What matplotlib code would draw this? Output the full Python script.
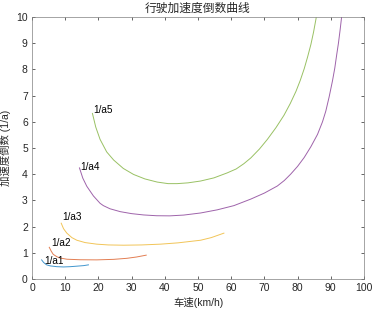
import matplotlib
matplotlib.use("Agg")
import matplotlib.pyplot as plt

v1 = [2.9, 3.5, 4.4, 5.5, 7.5, 9.5, 11.5, 13.5, 15.5, 17.0]
a1 = [0.73, 0.63, 0.54, 0.50, 0.47, 0.46, 0.47, 0.49, 0.51, 0.54]

v2 = [5.2, 5.8, 6.4, 7.5, 8.5, 10.5, 14.5, 19.5, 24.6, 28.6, 31.5, 34.4]
a2 = [1.21, 1.06, 0.94, 0.85, 0.80, 0.755, 0.735, 0.73, 0.75, 0.79, 0.84, 0.91]

v3 = [8.8, 9.5, 10.5, 12.0, 13.5, 16.0, 19.5, 23.0, 27.6, 33.0, 38.7, 44.0, 50.8, 54.0, 57.8]
a3 = [2.13, 1.92, 1.75, 1.58, 1.48, 1.39, 1.33, 1.30, 1.29, 1.30, 1.33, 1.38, 1.48, 1.58, 1.75]

v4 = [14.3, 15.3, 16.5, 18.5, 20.5, 21.5, 23.5, 26.6, 30.0, 33.6, 37.5, 41.5, 45.7, 50.8,
      55.8, 60.8, 65.9, 70.0, 73.9, 76.0, 77.9, 80.0, 82.0, 84.0, 86.0, 87.5, 88.5, 89.5,
      90.5, 91.2, 91.8, 92.3, 92.8, 93.3]
a4 = [4.24, 3.85, 3.54, 3.17, 2.89, 2.80, 2.68, 2.57, 2.495, 2.445, 2.415, 2.41, 2.44, 2.52,
      2.64, 2.80, 3.05, 3.28, 3.55, 3.76, 4.00, 4.30, 4.64, 5.05, 5.52, 6.00, 6.41, 6.95,
      7.56, 8.05, 8.58, 9.00, 9.50, 10.05]

v5 = [18.2, 19.2, 20.5, 22.5, 24.6, 27.5, 30.6, 34.0, 37.7, 41.0, 43.7, 47.0, 50.8, 54.8,
      58.8, 61.5, 63.8, 65.9, 68.5, 70.9, 73.5, 75.9, 77.8, 79.5, 80.8, 82.0, 83.0, 84.0,
      84.8, 85.6]
a5 = [6.32, 5.80, 5.33, 4.85, 4.54, 4.22, 3.99, 3.82, 3.70, 3.64, 3.64, 3.67, 3.74, 3.86,
      4.05, 4.20, 4.40, 4.62, 4.96, 5.33, 5.78, 6.25, 6.70, 7.16, 7.58, 8.03, 8.47, 8.95,
      9.42, 9.97]

labels = ["1/a1", "1/a2", "1/a3", "1/a4", "1/a5"]
label_pos = [(3.6, 0.67), (5.9, 1.38), (9.0, 2.38), (14.5, 4.29), (18.5, 6.44)]
colors = ["#0072BD", "#D95319", "#EDB120", "#7E2F8E", "#77AC30"]

series = [(v1, a1), (v2, a2), (v3, a3), (v4, a4), (v5, a5)]

latin = ["Liberation Sans", "Noto Sans CJK SC", "DejaVu Sans"]
cjk = ["Noto Sans CJK SC", "DejaVu Sans"]

fig = plt.figure(figsize=(3.72, 3.13), dpi=100)
ax = fig.add_axes([32/372, 34/313, 332/372, 262/313])

for (v, a), c in zip(series, colors):
    ax.plot(v, a, color=c, lw=0.7, alpha=0.75)

for lab, (x, y) in zip(labels, label_pos):
    ax.text(x, y, lab, ha="left", va="center", fontsize=7.2, family=latin, color="black")

ax.set_xlim(0, 100)
ax.set_ylim(0, 10)
ax.set_xticks(range(0, 101, 10))
ax.set_yticks(range(0, 11, 1))
ax.tick_params(direction="in", top=True, right=True, length=2.5, width=0.5,
               labelsize=7.5, colors="#262626", pad=3)
for lbl in ax.get_xticklabels() + ax.get_yticklabels():
    lbl.set_family(latin)
for s in ax.spines.values():
    s.set_linewidth(0.5)
    s.set_color("#808080")

ax.set_title("行驶加速度倒数曲线", fontsize=8.5, family=cjk, color="#262626", pad=4)
ax.set_xlabel("车速(km/h)", fontsize=7.5, family=latin, color="#262626", labelpad=3)
ax.set_ylabel("加速度倒数 (1/a)", fontsize=7.5, family=latin, color="#262626", labelpad=4)

fig.savefig("out.png", dpi=100)
